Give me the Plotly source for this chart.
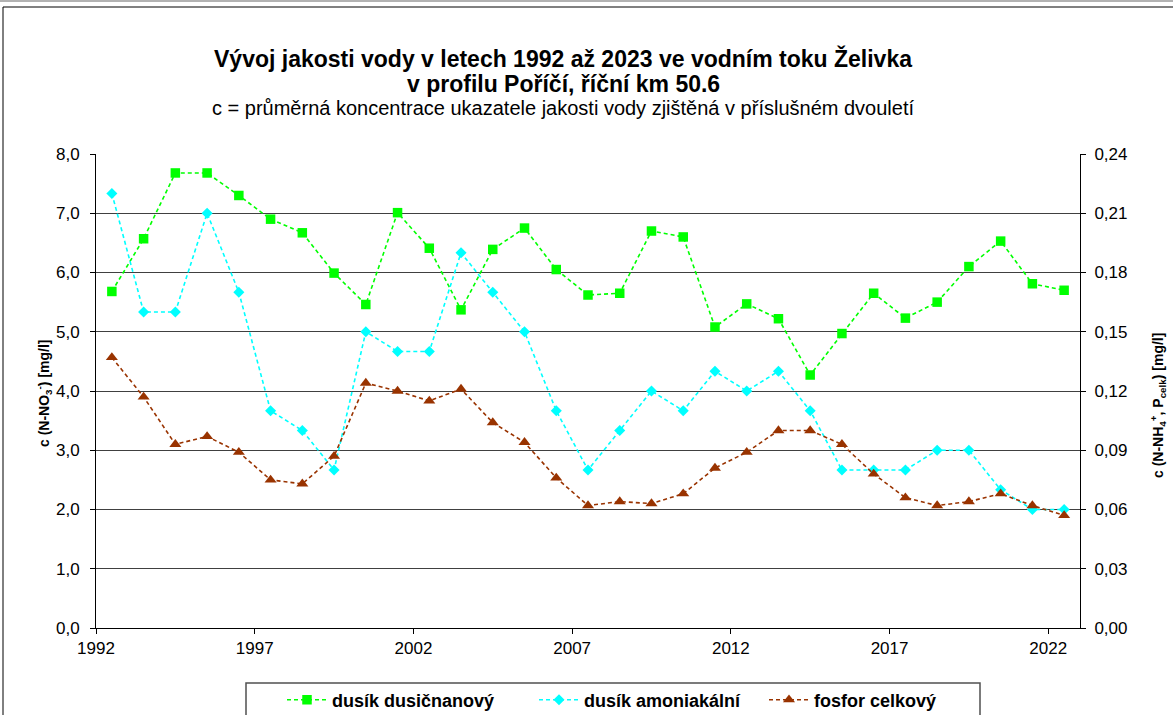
import plotly.graph_objects as go

years = [1992.5 + i for i in range(31)]

dusik_dusicnanovy = [5.68, 6.57, 7.68, 7.68, 7.30, 6.90, 6.67, 5.99, 5.46, 7.01, 6.41,
                     5.37, 6.39, 6.75, 6.05, 5.62, 5.65, 6.70, 6.60, 5.08, 5.47, 5.22,
                     4.27, 4.97, 5.65, 5.23, 5.50, 6.10, 6.53, 5.81, 5.70]
dusik_amoniakalni = [0.22, 0.16, 0.16, 0.21, 0.17, 0.11, 0.10, 0.08, 0.15, 0.14, 0.14,
                     0.19, 0.17, 0.15, 0.11, 0.08, 0.10, 0.12, 0.11, 0.13, 0.12, 0.13,
                     0.11, 0.08, 0.08, 0.08, 0.09, 0.09, 0.07, 0.06, 0.06]
fosfor_celkovy = [0.137, 0.117, 0.093, 0.097, 0.089, 0.075, 0.073, 0.087, 0.124, 0.120, 0.115,
                  0.121, 0.104, 0.094, 0.076, 0.062, 0.064, 0.063, 0.068, 0.081, 0.089, 0.100,
                  0.100, 0.093, 0.078, 0.066, 0.062, 0.064, 0.068, 0.062, 0.057]

x_ticks = [1992, 1997, 2002, 2007, 2012, 2017, 2022]
left_ticks = [0, 1, 2, 3, 4, 5, 6, 7, 8]
right_ticks = [0, 0.03, 0.06, 0.09, 0.12, 0.15, 0.18, 0.21, 0.24]

W, H = 1173, 715
L, R, T, B = 96, 93, 154, 87
PW, PH = W - L - R, H - T - B


def px(x):
    return (x - L) / PW


def py(y):
    return (H - B - y) / PH


FONT = "Liberation Sans, Arial, sans-serif"
DASH = "4px,3px"

fig = go.Figure()
fig.add_trace(go.Scatter(
    x=years, y=dusik_dusicnanovy, name="dusík dusičnanový", mode="lines+markers",
    line=dict(color="#00FF00", width=1.6, dash=DASH),
    marker=dict(symbol="square", size=9.5, color="#00FF00", line=dict(width=0)),
    legend="legend"))
fig.add_trace(go.Scatter(
    x=years, y=dusik_amoniakalni, name="dusík amoniakální", mode="lines+markers",
    line=dict(color="#00FFFF", width=1.6, dash=DASH),
    marker=dict(symbol="diamond", size=8.5, color="#00FFFF", line=dict(width=0)),
    yaxis="y2", legend="legend2"))
fig.add_trace(go.Scatter(
    x=years, y=fosfor_celkovy, name="fosfor celkový", mode="lines+markers",
    line=dict(color="#993300", width=1.6, dash=DASH),
    marker=dict(symbol="triangle-up", size=10.5, color="#993300", line=dict(width=0)),
    yaxis="y2", legend="legend3"))

legend_common = dict(orientation="h", yanchor="middle", xanchor="left",
                     font=dict(family=FONT, size=18, color="black", weight="bold"),
                     bgcolor="rgba(0,0,0,0)", borderwidth=0, itemwidth=40)
ly = py(700)

TICKFONT = dict(family=FONT, size=17, color="black")

fig.update_layout(
    width=W, height=H,
    margin=dict(l=L, r=R, t=T, b=B, autoexpand=False),
    paper_bgcolor="white", plot_bgcolor="white",
    separators=", ",
    font=dict(family=FONT, size=16, color="black"),
    xaxis=dict(range=[1992, 2023], tickvals=x_ticks, tickformat="d",
               showgrid=False, zeroline=False, showline=True, linecolor="black", linewidth=1,
               ticks="outside", ticklen=5, tickcolor="black", tickfont=TICKFONT),
    yaxis=dict(range=[0, 8], tickvals=left_ticks, tickformat=".1f",
               showgrid=True, gridcolor="#404040", gridwidth=1, zeroline=False,
               showline=True, linecolor="black", linewidth=1,
               ticks="outside", ticklen=5, tickcolor="black", tickfont=TICKFONT,
               ticklabelstandoff=7),
    yaxis2=dict(range=[0, 0.24], tickvals=right_ticks, tickformat=".2f",
                overlaying="y", side="right", showgrid=False, zeroline=False,
                showline=True, linecolor="black", linewidth=1,
                ticks="outside", ticklen=5, tickcolor="black", tickfont=TICKFONT,
                ticklabelstandoff=5),
    legend=dict(x=px(282), y=ly, **legend_common),
    legend2=dict(x=px(534), y=ly, **legend_common),
    legend3=dict(x=px(764), y=ly, **legend_common),
    showlegend=True,
)

annotations = [
    dict(text="<b>Vývoj jakosti vody v letech 1992 až 2023 ve vodním toku Želivka</b>",
         x=px(563), y=py(58), font=dict(size=23)),
    dict(text="<b>v profilu Poříčí, říční km 50.6</b>",
         x=px(563), y=py(84), font=dict(size=23)),
    dict(text="c = průměrná koncentrace ukazatele jakosti vody zjištěná v příslušném dvouletí",
         x=px(563), y=py(108), font=dict(size=20)),
    dict(text="<b>c (N-NO<sub>3</sub><sup>-</sup>) [mg/l]</b>",
         x=px(44), y=py(393), textangle=-90, font=dict(size=14)),
    dict(text="<b>c (N-NH<sub>4</sub><sup>+</sup>, P<sub>celk</sub>) [mg/l]</b>",
         x=px(1158), y=py(406), textangle=-90, font=dict(size=14)),
]
for a in annotations:
    a.update(xref="paper", yref="paper", showarrow=False, xanchor="center", yanchor="middle")
    a["font"].update(family=FONT, color="black")
fig.update_layout(annotations=annotations)

shapes = [
    dict(type="rect", x0=px(3), x1=px(1177), y0=py(722), y1=py(7),
         line=dict(color="black", width=1)),
    dict(type="line", x0=px(-5), x1=px(1180), y0=py(1), y1=py(1),
         line=dict(color="#999999", width=1.5)),
    dict(type="rect", x0=px(246), x1=px(980), y0=py(725), y1=py(683),
         line=dict(color="#505050", width=1.5)),
]
for s in shapes:
    s.update(xref="paper", yref="paper", layer="above")
fig.update_layout(shapes=shapes)

fig.write_html("out.html", config={"displayModeBar": False},
               post_script="document.body.style.margin='0';document.body.style.overflow='hidden';")
